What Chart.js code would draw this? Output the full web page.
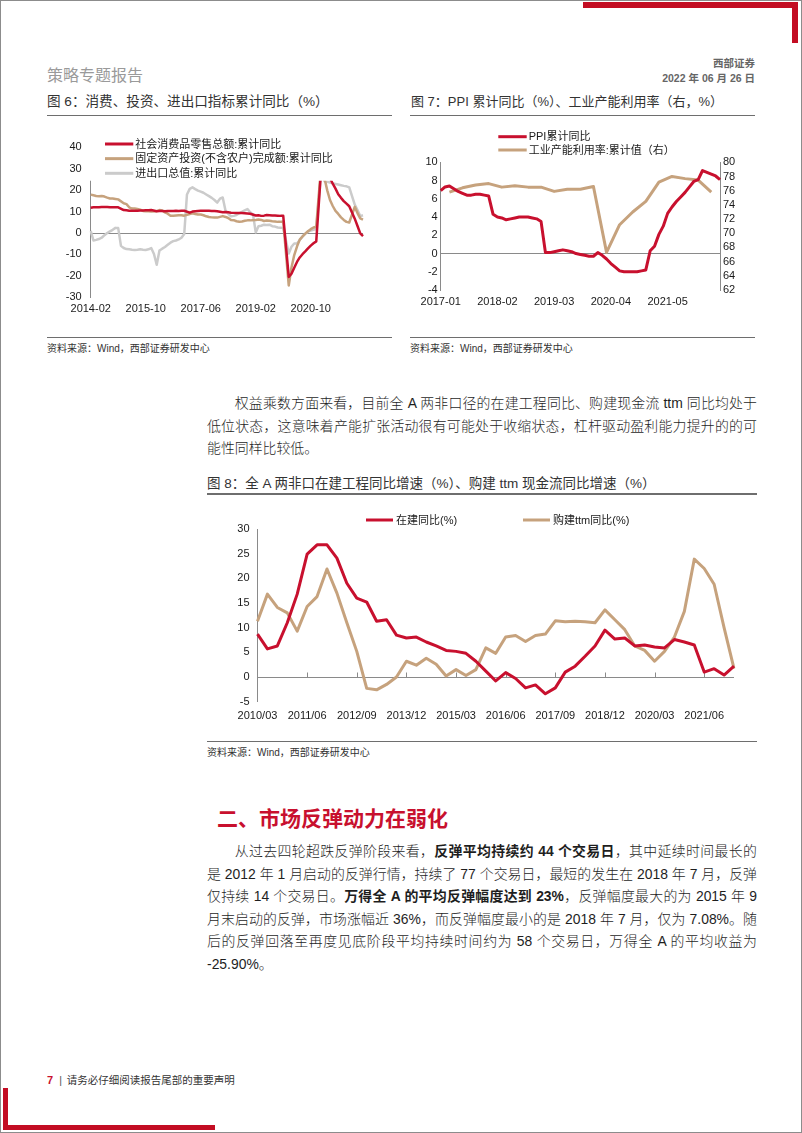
<!DOCTYPE html>
<html><head><meta charset="utf-8">
<script src="https://cdn.jsdelivr.net/npm/chart.js@4.4.1/dist/chart.umd.min.js"></script>
<style>
html,body{margin:0;padding:0;background:#fff;}
#page{position:relative;width:802px;height:1133px;overflow:hidden;font-family:"Liberation Sans","Noto Sans CJK SC",sans-serif;color:#222;}
.frame{position:absolute;left:0;top:0;width:802px;height:1133px;box-sizing:border-box;border:1px solid #8c8c8c;}
.abs{position:absolute;white-space:nowrap;}
.red{position:absolute;background:#C30D23;}
.rule{position:absolute;height:1.6px;background:#6e6e6e;}
.ftitle{font-size:13px;line-height:18px;color:#333;}
.src{font-size:10px;line-height:14px;color:#333;}
.pl{position:absolute;left:207px;width:550px;height:22px;line-height:22px;font-size:13.9px;font-weight:300;white-space:nowrap;text-align:justify;text-align-last:justify;color:#1e1e1e;}
.pl b{font-weight:bold;}
.pl.last{text-align:left;text-align-last:left;}
.ind{text-indent:2em;}
canvas{position:absolute;}
</style></head>
<body>
<div id="page">
  <div class="frame"></div>
  <div class="red" style="left:583px;top:2px;width:215px;height:6px;"></div>
  <div class="red" style="left:792px;top:2px;width:6px;height:41px;"></div>
  <div class="red" style="left:3px;top:1088px;width:5px;height:42px;"></div>
  <div class="red" style="left:3px;top:1125px;width:212px;height:5px;"></div>

  <div class="abs" style="left:47px;top:66px;font-size:16px;line-height:20px;color:#9a9a9a;">策略专题报告</div>
  <div class="abs" style="right:47px;top:55.5px;font-size:10.5px;line-height:14px;color:#666;font-weight:bold;">西部证券</div>
  <div class="abs" style="right:47px;top:71.3px;font-size:10.5px;line-height:14px;color:#666;font-weight:bold;">2022 年 06 月 26 日</div>

  <div class="abs ftitle" style="left:47px;top:93px;font-size:13.6px;">图 6：消费、投资、进出口指标累计同比（%）</div>
  <div class="abs ftitle" style="left:411px;top:93px;">图 7：PPI 累计同比（%）、工业产能利用率（右，%）</div>
  <div class="rule" style="left:47px;top:114.5px;width:345px;"></div>
  <div class="rule" style="left:410px;top:114.5px;width:345px;"></div>

  <canvas id="c6" width="345" height="218" style="left:47px;top:118px;width:345px;height:218px;"></canvas>
  <canvas id="c7" width="350" height="218" style="left:405px;top:118px;width:350px;height:218px;"></canvas>

  <div class="rule" style="left:47px;top:336.5px;width:345px;"></div>
  <div class="rule" style="left:410px;top:336.5px;width:345px;"></div>
  <div class="abs src" style="left:47px;top:342.3px;">资料来源：Wind，西部证券研发中心</div>
  <div class="abs src" style="left:410px;top:342.3px;">资料来源：Wind，西部证券研发中心</div>

  <div class="pl ind" style="top:392.2px;">权益乘数方面来看，目前全 A 两非口径的在建工程同比、购建现金流 ttm 同比均处于</div>
  <div class="pl" style="top:414.6px;">低位状态，这意味着产能扩张活动很有可能处于收缩状态，杠杆驱动盈利能力提升的的可</div>
  <div class="pl last" style="top:437px;">能性同样比较低。</div>

  <div class="abs ftitle" style="left:207px;top:474.5px;font-size:13.5px;">图 8：全 A 两非口在建工程同比增速（%）、购建 ttm 现金流同比增速（%）</div>
  <div class="rule" style="left:207px;top:493.3px;width:550px;"></div>
  <canvas id="c8" width="550" height="244" style="left:207px;top:496px;width:550px;height:244px;"></canvas>
  <div class="rule" style="left:207px;top:740.9px;width:550px;"></div>
  <div class="abs src" style="left:207px;top:746.3px;">资料来源：Wind，西部证券研发中心</div>

  <div class="abs" style="left:217px;top:804px;font-size:21px;line-height:30px;color:#C8102E;font-weight:bold;">二、市场反弹动力在弱化</div>

  <div class="pl ind" style="top:840.3px;">从过去四轮超跌反弹阶段来看，<b>反弹平均持续约 44 个交易日</b>，其中延续时间最长的</div>
  <div class="pl" style="top:862.8px;">是 2012 年 1 月启动的反弹行情，持续了 77 个交易日，最短的发生在 2018 年 7 月，反弹</div>
  <div class="pl" style="top:885.3px;">仅持续 14 个交易日。<b>万得全 A 的平均反弹幅度达到 23%</b>，反弹幅度最大的为 2015 年 9</div>
  <div class="pl" style="top:907.8px;">月末启动的反弹，市场涨幅近 36%，而反弹幅度最小的是 2018 年 7 月，仅为 7.08%。随</div>
  <div class="pl" style="top:930.3px;">后的反弹回落至再度见底阶段平均持续时间约为 58 个交易日，万得全 A 的平均收益为</div>
  <div class="pl last" style="top:952.8px;">-25.90%。</div>

  <div class="abs" style="left:47px;top:1073px;font-size:10.5px;line-height:14px;color:#333;"><span style="color:#C8102E;font-weight:bold;font-size:11px;">7</span><span style="margin-left:6px;margin-right:5px;color:#555;">|</span>请务必仔细阅读报告尾部的重要声明</div>
</div>

<script>
// ---------- Figure 6 data (monthly, 2014-02 .. 2022-05) ----------
const fig6Ticks = ['2014-02', '2015-10', '2017-06', '2019-02', '2020-10'];
const fig6Retail = [
  11.8, 12.0, 12.0, 12.0, 12.1, 12.1, 12.1, 12.0, 12.0, 12.0, 12.0,
  null, 10.7, 10.6, 10.4, 10.4, 10.4, 10.4, 10.5, 10.5, 10.6, 10.6, 10.7,
  null, 10.2, 10.3, 10.3, 10.2, 10.3, 10.3, 10.3, 10.4, 10.3, 10.4, 10.4,
  null, 9.5, 10.0, 10.2, 10.3, 10.4, 10.4, 10.4, 10.4, 10.3, 10.3, 10.2,
  null, 9.7, 9.8, 9.7, 9.5, 9.4, 9.3, 9.3, 9.3, 9.2, 9.1, 9.0,
  null, 8.2, 8.3, 8.0, 8.1, 8.4, 8.3, 8.2, 8.2, 8.1, 8.0, 8.0,
  null, -20.5, -19.0, -16.2, -13.5, -11.4, -9.9, -8.6, -7.2, -5.9, -4.8, -3.9,
  null, 33.8, 33.9, 29.6, 25.7, 23.0, 20.7, 18.1, 16.4, 14.9, 13.7, 12.5,
  null, 6.7, 3.3, -0.2, -1.5
];
const fig6FAI = [
  17.9, 17.6, 17.3, 17.2, 17.3, 17.0, 16.5, 16.1, 16.1, 15.9, 15.7,
  null, 13.9, 13.5, 12.0, 11.4, 11.4, 11.2, 10.9, 10.3, 10.2, 10.2, 10.0,
  null, 10.2, 10.7, 10.5, 9.6, 9.0, 8.1, 8.1, 8.2, 8.3, 8.3, 8.1,
  null, 8.9, 9.2, 8.9, 8.6, 8.6, 8.3, 7.8, 7.5, 7.3, 7.2, 7.2,
  null, 7.9, 7.5, 7.0, 6.1, 6.0, 5.5, 5.3, 5.4, 5.7, 5.9, 5.9,
  null, 6.1, 6.3, 6.1, 5.6, 5.8, 5.7, 5.5, 5.4, 5.2, 5.2, 5.4,
  null, -24.5, -16.1, -10.3, -6.3, -3.1, -1.6, -0.3, 0.8, 1.8, 2.6, 2.9,
  null, 35.0, 25.6, 19.9, 15.4, 12.6, 10.3, 8.9, 7.3, 6.1, 5.2, 4.9,
  null, 12.2, 9.3, 6.8, 6.2
];
const fig6Trade = [
  1.0, -3.5, -3.2, -2.8, -2.2, -1.0, 0.0, 0.8, 1.5, 2.4, 2.3,
  -6.0, -7.0, -7.5, -7.6, -7.8, -7.9, -7.8, -7.6, -7.8, -7.9, -7.6, -7.0,
  -9.8, -14.8, -8.2, -7.3, -6.5, -5.5, -4.5, -3.8, -3.5, -3.0, -2.2, -0.5,
  18.0, 20.6, 21.3, 20.5, 19.8, 19.3, 18.8, 18.0, 17.2, 16.4, 15.4, 14.2,
  16.0, 16.6, 10.5, 9.0, 7.8, 8.0, 8.4, 9.2, 9.9, 10.6, 11.2, 9.7,
  8.7, 0.3, 3.2, 3.4, 3.9, 3.7, 3.9, 3.2, 3.0, 2.6, 2.5, 2.4,
  null, -9.6, -6.4, -4.9, -4.9, -3.3, -1.7, -0.4, 0.7, 1.1, 1.5, 1.9,
  null, 32.2, 24.1, 23.9, 23.6, 23.2, 22.9, 22.6, 22.3, 22.0, 21.8, 21.3,
  null, 13.3, 10.7, 7.9, 8.3
];

// ---------- Figure 7 data ----------
const fig7Ticks = ['2017-01', '2018-02', '2019-03', '2020-04', '2021-05'];
const fig7PPI = [
  6.9, 7.3, 7.4, 7.1, 6.8, 6.6, 6.4, 6.4, 6.5, 6.5, 6.4, 6.3,
  4.3, 4.0, 3.9, 3.7, 3.8, 3.9, 4.0, 4.0, 4.0, 3.9, 3.8, 3.5,
  0.1, 0.1, 0.2, 0.3, 0.4, 0.3, 0.2, 0.0, -0.1, -0.2, -0.3, -0.3,
  0.1, -0.2, -0.6, -1.1, -1.5, -1.9, -2.0, -2.0, -2.0, -2.0, -1.9, -1.8,
  0.3, 0.8, 2.1, 3.0, 4.4, 5.1, 5.7, 6.2, 6.7, 7.3, 7.9, 8.1,
  9.1, 8.9, 8.7, 8.5, 8.1
];
const fig7CapQuarters = ['2017-03','2017-06','2017-09','2017-12','2018-03','2018-06','2018-09','2018-12',
  '2019-03','2019-06','2019-09','2019-12','2020-03','2020-06','2020-09','2020-12',
  '2021-03','2021-06','2021-09','2021-12','2022-03'];
const fig7CapUtil = [75.8, 76.4, 76.8, 77.0, 76.5, 76.7, 76.5, 76.5,
  75.9, 76.2, 76.2, 76.6, 67.3, 71.2, 73.0, 74.5,
  77.2, 78.0, 77.7, 77.5, 75.8];

// ---------- Figure 8 data (quarterly, 2010/03 .. 2022/03) ----------
const fig8Ticks = ['2010/03','2011/06','2012/09','2013/12','2015/03','2016/06','2017/09','2018/12','2020/03','2021/06'];
const fig8Construction = [8.7, 5.7, 6.3, 11.0, 16.8, 24.9, 26.8, 26.8, 24.1, 19.0, 16.0, 15.2, 11.3, 11.6,
  8.5, 7.9, 8.1, 7.1, 6.3, 5.4, 5.2, 4.8, 3.2, 1.2, -0.8, 0.9, -0.3, -2.2, -1.6, -3.4, -2.2, 1.0, 2.2,
  4.2, 6.3, 9.5, 7.7, 7.9, 6.3, 6.5, 6.1, 5.9, 7.6, 7.1, 6.5, 1.0, 1.7, 0.4, 2.2];
const fig8CapexTTM = [11.3, 16.8, 14.1, 13.0, 9.3, 14.3, 16.3, 21.9, 17.0, 11.0, 5.2, -2.3, -2.6, -1.5,
  0.0, 3.2, 2.4, 3.8, 2.6, 0.2, 1.5, 0.3, 1.5, 5.9, 4.8, 8.1, 8.4, 7.2, 8.4, 8.7, 11.4, 11.2, 11.3,
  11.2, 11.0, 13.6, 11.6, 9.6, 6.3, 5.4, 3.2, 5.2, 8.1, 13.3, 23.9, 22.0, 18.8, 10.0, 1.7];

function periodRange(y0, m0, y1, m1, step, sep) {
  const out = []; let y = y0, m = m0;
  while (y < y1 || (y === y1 && m <= m1)) {
    out.push(y + sep + String(m).padStart(2, '0'));
    m += step; if (m > 12) { m -= 12; y++; }
  }
  return out;
}
const fig6Months = periodRange(2014, 2, 2022, 5, 1, '-');
const fig7Months = periodRange(2017, 1, 2022, 5, 1, '-');
const fig8Quarters = periodRange(2010, 3, 2022, 3, 3, '/');

const RED = '#C8102E', TAN = '#C6A27D', GRAY = '#CBCBCB', AXIS = '#8a8a8a';
const FONT = '"Liberation Sans","Noto Sans CJK SC",sans-serif';
Chart.defaults.font.family = FONT;
Chart.defaults.font.size = 11;
Chart.defaults.color = '#1a1a1a';

function tickCb(shown) {
  return function (v) { const l = this.getLabelForValue(v); return shown.includes(l) ? l : ''; };
}
function zeroGrid(c) { return c.tick && c.tick.value === 0 ? AXIS : 'rgba(0,0,0,0)'; }

function legendPlugin(cfg) {
  return {
    id: 'lineLegend',
    afterDraw(chart) {
      const { ctx, chartArea: a } = chart;
      ctx.save();
      ctx.font = cfg.font;
      ctx.textBaseline = 'middle';
      ctx.textAlign = 'left';
      chart.data.datasets.forEach((ds, i) => {
        const x = a.left + cfg.pos[i][0], y = a.top + cfg.pos[i][1];
        ctx.strokeStyle = ds.borderColor; ctx.lineWidth = cfg.lw; ctx.lineCap = 'butt';
        ctx.beginPath(); ctx.moveTo(x, y); ctx.lineTo(x + cfg.len, y); ctx.stroke();
        ctx.fillStyle = '#1a1a1a';
        ctx.fillText(ds.label, x + cfg.len + cfg.gap, y + 0.5);
      });
      ctx.restore();
    }
  };
}
function maskPlugin(val) {
  return {
    id: 'topMask',
    afterDatasetsDraw(chart) {
      const { ctx, chartArea: a, scales: { y } } = chart;
      const yb = y.getPixelForValue(val);
      ctx.save(); ctx.fillStyle = '#fff';
      ctx.fillRect(a.left - 2, 0, a.right - a.left + 6, yb);
      ctx.restore();
    }
  };
}
function zeroTicksPlugin(shown) {
  return {
    id: 'zeroTicks',
    beforeDatasetsDraw(chart) {
      const { ctx, scales: { x, y } } = chart;
      const y0 = Math.round(y.getPixelForValue(0)) + 0.5;
      ctx.save(); ctx.strokeStyle = AXIS; ctx.lineWidth = 1;
      chart.data.labels.forEach((l, i) => {
        if (i > 0 && shown.includes(l)) {
          const px = Math.round(x.getPixelForValue(i)) + 0.5;
          ctx.beginPath(); ctx.moveTo(px, y0); ctx.lineTo(px, y0 - 5); ctx.stroke();
        }
      });
      ctx.restore();
    }
  };
}

function lineDs(label, data, color, width, axis) {
  return { label, data, borderColor: color, backgroundColor: color, borderWidth: width,
    pointRadius: 0, tension: 0, spanGaps: true, yAxisID: axis || 'y', borderJoinStyle: 'round' };
}
const baseOpts = { responsive: false, animation: false, devicePixelRatio: 1, events: [] };

// ---------- Figure 6 ----------
new Chart(document.getElementById('c6'), {
  type: 'line',
  data: { labels: fig6Months, datasets: [
    lineDs('社会消费品零售总额:累计同比', fig6Retail, RED, 2.5),
    lineDs('固定资产投资(不含农户)完成额:累计同比', fig6FAI, TAN, 2.5),
    lineDs('进出口总值:累计同比', fig6Trade, GRAY, 2.5)
  ]},
  options: Object.assign({}, baseOpts, {
    layout: { padding: { top: 29.3, right: 29, left: 0, bottom: 0 } },
    plugins: { legend: { display: false }, tooltip: { enabled: false } },
    scales: {
      x: { grid: { display: false, drawTicks: false }, border: { display: false },
        ticks: { autoSkip: false, maxRotation: 0, padding: 5, callback: tickCb(fig6Ticks) },
        afterFit(s) { s.height = 38.7; } },
      y: { min: -30, max: 40, ticks: { stepSize: 10, padding: 9, autoSkip: false },
        grid: { drawTicks: false, color: zeroGrid }, border: { display: true, color: AXIS },
        afterFit(s) { s.width = 43.7; } }
    }
  }),
  plugins: [maskPlugin(24.4), legendPlugin({ font: '11px ' + FONT, len: 28.3, gap: 2, lw: 3,
    pos: [[14.3, -3.3], [14.3, 11.35], [14.3, 26.0]] })]
});

// ---------- Figure 7 ----------
new Chart(document.getElementById('c7'), {
  type: 'line',
  data: { labels: fig7Months, datasets: [
    lineDs('PPI累计同比', fig7PPI, RED, 3),
    lineDs('工业产能利用率:累计值（右）', fig7CapQuarters.map((q, i) => ({ x: q, y: fig7CapUtil[i] })), TAN, 3, 'y1')
  ]},
  options: Object.assign({}, baseOpts, {
    layout: { padding: { top: 44.3, right: 0, left: 0, bottom: 0 } },
    plugins: { legend: { display: false }, tooltip: { enabled: false } },
    scales: {
      x: { grid: { display: false, drawTicks: false }, border: { display: false },
        ticks: { autoSkip: false, maxRotation: 0, padding: 5, callback: tickCb(fig7Ticks) },
        afterFit(s) { s.height = 46; } },
      y: { position: 'left', min: -4, max: 10, ticks: { stepSize: 2, padding: 3, autoSkip: false },
        grid: { drawTicks: false, color: zeroGrid }, border: { display: true, color: AXIS },
        afterFit(s) { s.width = 35.7; } },
      y1: { position: 'right', min: 62, max: 80, ticks: { stepSize: 2, padding: 3, autoSkip: false },
        grid: { display: false, drawTicks: false }, border: { display: true, color: AXIS },
        afterFit(s) { s.width = 35; } }
    }
  }),
  plugins: [legendPlugin({ font: '11px ' + FONT, len: 28.4, gap: 2, lw: 3,
    pos: [[57.6, -25.6], [57.6, -12.3]] })]
});

// ---------- Figure 8 ----------
new Chart(document.getElementById('c8'), {
  type: 'line',
  data: { labels: fig8Quarters, datasets: [
    lineDs('在建同比(%)', fig8Construction, RED, 3),
    lineDs('购建ttm同比(%)', fig8CapexTTM, TAN, 3)
  ]},
  options: Object.assign({}, baseOpts, {
    layout: { padding: { top: 33, right: 23, left: 0, bottom: 0 } },
    plugins: { legend: { display: false }, tooltip: { enabled: false } },
    scales: {
      x: { grid: { display: false, drawTicks: false }, border: { display: false },
        ticks: { autoSkip: false, maxRotation: 0, padding: 7.2, callback: tickCb(fig8Ticks) },
        afterFit(s) { s.height = 38.3; } },
      y: { min: -5, max: 30, ticks: { stepSize: 5, padding: 8, autoSkip: false },
        grid: { drawTicks: false, color: zeroGrid }, border: { display: true, color: AXIS },
        afterFit(s) { s.width = 50.5; } }
    }
  }),
  plugins: [zeroTicksPlugin(fig8Ticks), legendPlugin({ font: '11px ' + FONT, len: 27, gap: 3, lw: 3,
    pos: [[108.5, -9], [265.5, -9]] })]
});
</script>
</body></html>
